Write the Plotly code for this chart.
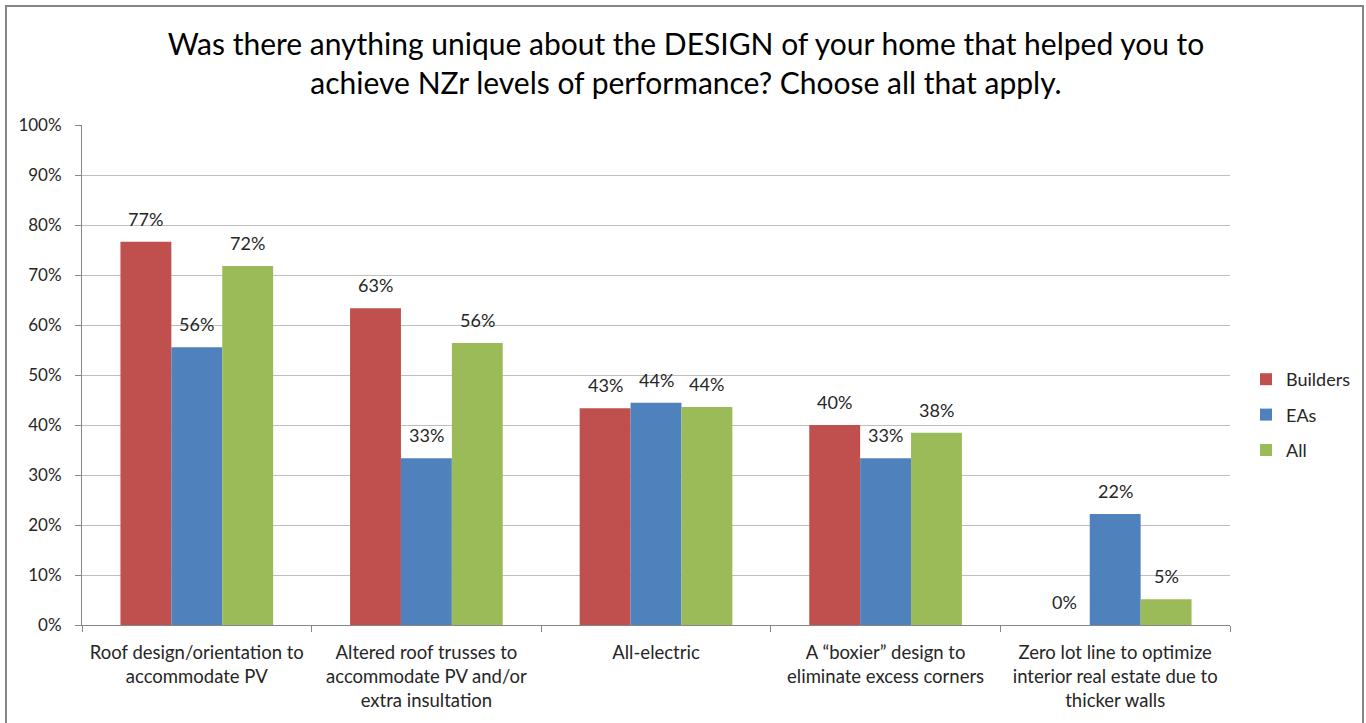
import plotly.graph_objects as go

categories = [
    "Roof design/orientation to<br>accommodate PV",
    "Altered roof trusses to<br>accommodate PV and/or<br>extra insultation",
    "All-electric",
    "A \u201cboxier\u201d design to<br>eliminate excess corners",
    "Zero lot line to optimize<br>interior real estate due to<br>thicker walls",
]
builders = [23/30, 19/30, 13/30, 12/30, 0.0]
eas = [5/9, 3/9, 4/9, 3/9, 2/9]
all_resp = [28/39, 22/39, 17/39, 15/39, 2/39]

series = [("Builders", builders, "#C0504D"), ("EAs", eas, "#4F81BD"), ("All", all_resp, "#9BBB59")]
y_ticks = [i / 10 for i in range(11)]

FONT = "Lato, Calibri, sans-serif"
TEXT = "#262626"

L, R, T, B = 82, 136, 125, 98
W, H = 1366, 723
pw, ph = W - L - R, H - T - B
BARGAP = 0.335
bar_px = pw / len(categories) * (1 - BARGAP) / len(series)


def px_x(x):
    return (x - L) / pw


def px_y(y):
    return (H - B - y) / ph


fig = go.Figure()
for k, (name, vals, col) in enumerate(series):
    fig.add_trace(go.Bar(
        x=categories, y=vals, name=name, legendgroup=name,
        marker=dict(color=col, line=dict(width=0)),
    ))
    # value labels above each bar
    shift = (k - (len(series) - 1) / 2) * bar_px
    for cat, v in zip(categories, vals):
        fig.add_annotation(
            x=cat, y=v, xref="x", yref="y", text=f"{v:.0%}",
            showarrow=False, xshift=shift, yshift=10, yanchor="bottom",
            font=dict(size=18, color=TEXT, family=FONT),
        )

fig.add_shape(type="rect", xref="paper", yref="paper",
              x0=px_x(6), x1=px_x(1363), y0=px_y(740), y1=px_y(6),
              line=dict(color="#868686", width=2), layer="below")

fig.update_layout(
    width=W, height=H,
    margin=dict(l=L, r=R, t=T, b=B, autoexpand=False),
    paper_bgcolor="white", plot_bgcolor="white",
    font=dict(family=FONT, size=18, color=TEXT),
    title=dict(
        text="Was there anything unique about the DESIGN of your home that helped you to<br>achieve NZr levels of performance? Choose all that apply.",
        x=px_x(686), xref="paper", xanchor="center", y=1 - 55 / H, yanchor="middle",
        font=dict(size=30, family=FONT, color="#000000"),
    ),
    barmode="group", bargap=BARGAP, bargroupgap=0,
    legend=dict(x=px_x(1246), y=px_y(361), xanchor="left", yanchor="top",
                font=dict(size=18, color=TEXT), tracegroupgap=9),
    xaxis=dict(
        showline=True, linecolor="#868686", linewidth=1,
        ticks="outside", tickson="boundaries", ticklen=6, tickcolor="#868686",
        showgrid=False, tickfont=dict(size=18.5, color=TEXT),
        ticklabelstandoff=11,
    ),
    yaxis=dict(
        range=[0, 1], tickvals=y_ticks, tickformat=".0%",
        showline=True, linecolor="#868686", linewidth=1,
        ticks="outside", ticklen=6, tickcolor="#868686",
        showgrid=True, gridcolor="#BEBEBE", gridwidth=1,
        zeroline=False, tickfont=dict(size=17, color=TEXT),
        ticklabelstandoff=10,
    ),
)

fig.write_html("out.html")
